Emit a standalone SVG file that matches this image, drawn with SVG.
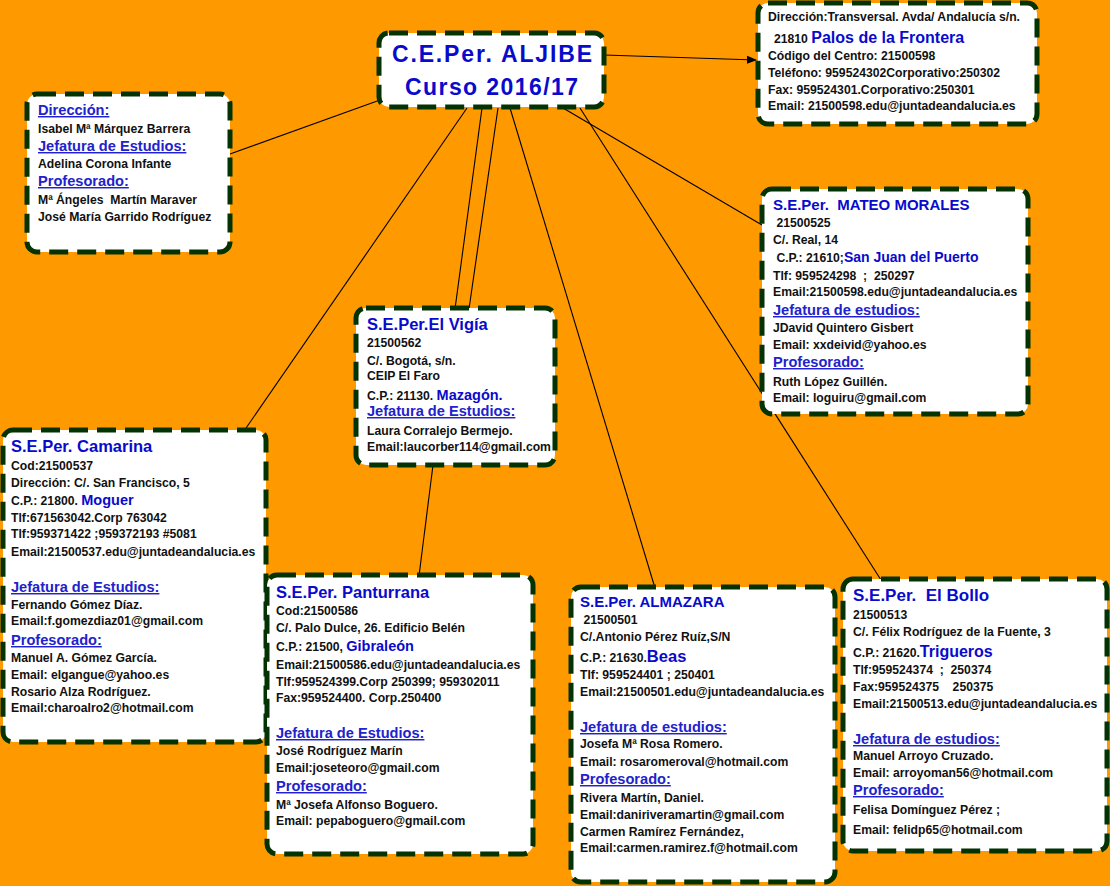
<svg xmlns="http://www.w3.org/2000/svg" width="1110" height="886" viewBox="0 0 1110 886">
<defs>
<marker id="arr" markerWidth="10" markerHeight="8" refX="9" refY="4" orient="auto" markerUnits="userSpaceOnUse">
<path d="M0,0 L10,4 L0,8 Z" fill="#000"/>
</marker>
<style>
.box{fill:#fff;stroke:#033303;stroke-width:5;stroke-dasharray:19 9}
.t{font-family:"Liberation Sans",Arial,sans-serif;font-weight:bold;font-size:12.2px;fill:#111;white-space:pre}
.h{font-family:"Liberation Sans",Arial,sans-serif;font-weight:bold;font-size:14.6px;fill:#2222cc;text-decoration:underline;white-space:pre}
.ti{font-family:"Liberation Sans",Arial,sans-serif;font-weight:bold;font-size:16.5px;fill:#0a0acc;white-space:pre}
.b{fill:#0a0acc}
.big{font-family:"Liberation Sans",Arial,sans-serif;font-weight:bold;font-size:23px;fill:#0a0acc}
.c{stroke:#000;stroke-width:1.1;fill:none}
</style>
</defs>
<rect width="1110" height="886" fill="#ff9900"/>
<g id="connectors">
<line class="c" x1="604" y1="55" x2="756" y2="60" marker-end="url(#arr)"/>
<line class="c" x1="380" y1="100" x2="230" y2="154"/>
<line class="c" x1="467" y1="108" x2="244" y2="431"/>
<line class="c" x1="482" y1="108" x2="455" y2="309"/>
<line class="c" x1="498" y1="108" x2="469" y2="309"/>
<line class="c" x1="510" y1="108" x2="655" y2="588"/>
<line class="c" x1="563" y1="108" x2="762" y2="225"/>
<line class="c" x1="580" y1="108" x2="881" y2="580"/>
<line class="c" x1="433" y1="465" x2="419" y2="576"/>
</g>
<g id="title">
<rect class="box" x="379" y="33" width="225" height="74" rx="10"/>
<text class="big" x="392" y="62" textLength="200">C.E.Per. ALJIBE</text>
<text class="big" x="405" y="95" textLength="173">Curso 2016/17</text>
</g>
<g id="centro">
<rect class="box" x="758" y="3" width="279" height="121" rx="10"/>
<text class="t" x="768" y="21">Dirección:Transversal. Avda/ Andalucía s/n.</text>
<text class="t" x="774" y="43">21810 <tspan class="b" style="font-size:16px">Palos de la Frontera</tspan></text>
<text class="t" x="768" y="60">Código del Centro: 21500598</text>
<text class="t" x="768" y="77">Teléfono: 959524302Corporativo:250302</text>
<text class="t" x="768" y="94">Fax: 959524301.Corporativo:250301</text>
<text class="t" x="768" y="110">Email: 21500598.edu@juntadeandalucia.es</text>
</g>
<g id="direccion">
<rect class="box" x="27" y="94" width="203" height="158" rx="10"/>
<text class="h" x="38" y="115">Dirección:</text>
<text class="t" x="38" y="133">Isabel Mª Márquez Barrera</text>
<text class="h" x="38" y="151">Jefatura de Estudios:</text>
<text class="t" x="38" y="168">Adelina Corona Infante</text>
<text class="h" x="38" y="186">Profesorado:</text>
<text class="t" x="38" y="204">Mª Ángeles  Martín Maraver</text>
<text class="t" x="38" y="221">José María Garrido Rodríguez</text>
</g>
<g id="mateo-morales">
<rect class="box" x="762" y="189" width="266" height="225" rx="10"/>
<text class="ti" x="773" y="210" style="font-size:15px">S.E.Per.  MATEO MORALES</text>
<text class="t" x="773" y="227"> 21500525</text>
<text class="t" x="773" y="244">C/. Real, 14</text>
<text class="t" x="773" y="262"> C.P.: 21610;<tspan class="b" style="font-size:14px">San Juan del Puerto</tspan></text>
<text class="t" x="773" y="280">Tlf: 959524298  ;  250297</text>
<text class="t" x="773" y="296">Email:21500598.edu@juntadeandalucia.es</text>
<text class="h" x="773" y="315">Jefatura de estudios:</text>
<text class="t" x="773" y="332">JDavid Quintero Gisbert</text>
<text class="t" x="773" y="349">Email: xxdeivid@yahoo.es</text>
<text class="h" x="773" y="367">Profesorado:</text>
<text class="t" x="773" y="386">Ruth López Guillén.</text>
<text class="t" x="773" y="402">Email: loguiru@gmail.com</text>
</g>
<g id="el-vigia">
<rect class="box" x="356" y="308" width="199" height="157" rx="10"/>
<text class="ti" x="367" y="330">S.E.Per.El Vigía</text>
<text class="t" x="367" y="347">21500562</text>
<text class="t" x="367" y="365">C/. Bogotá, s/n.</text>
<text class="t" x="367" y="380">CEIP El Faro</text>
<text class="t" x="367" y="400">C.P.: 21130. <tspan class="b" style="font-size:14.5px">Mazagón.</tspan></text>
<text class="h" x="367" y="416">Jefatura de Estudios:</text>
<text class="t" x="367" y="435">Laura Corralejo Bermejo.</text>
<text class="t" x="367" y="451">Email:laucorber114@gmail.com</text>
</g>
<g id="camarina">
<rect class="box" x="3" y="430" width="263" height="312" rx="10"/>
<text class="ti" x="11" y="452">S.E.Per. Camarina</text>
<text class="t" x="11" y="470">Cod:21500537</text>
<text class="t" x="11" y="487">Dirección: C/. San Francisco, 5</text>
<text class="t" x="11" y="505">C.P.: 21800. <tspan class="b" style="font-size:14.5px">Moguer</tspan></text>
<text class="t" x="11" y="522">Tlf:671563042.Corp 763042</text>
<text class="t" x="11" y="538">Tlf:959371422 ;959372193 #5081</text>
<text class="t" x="11" y="556">Email:21500537.edu@juntadeandalucia.es</text>
<text class="h" x="11" y="592">Jefatura de Estudios:</text>
<text class="t" x="11" y="609">Fernando Gómez Díaz.</text>
<text class="t" x="11" y="625">Email:f.gomezdiaz01@gmail.com</text>
<text class="h" x="11" y="645">Profesorado:</text>
<text class="t" x="11" y="662">Manuel A. Gómez García.</text>
<text class="t" x="11" y="679">Email: elgangue@yahoo.es</text>
<text class="t" x="11" y="696">Rosario Alza Rodríguez.</text>
<text class="t" x="11" y="712">Email:charoalro2@hotmail.com</text>
</g>
<g id="panturrana">
<rect class="box" x="267" y="575" width="266" height="279" rx="10"/>
<text class="ti" x="276" y="598">S.E.Per. Panturrana</text>
<text class="t" x="276" y="615">Cod:21500586</text>
<text class="t" x="276" y="632">C/. Palo Dulce, 26. Edificio Belén</text>
<text class="t" x="276" y="651">C.P.: 21500, <tspan class="b" style="font-size:14.5px">Gibraleón</tspan></text>
<text class="t" x="276" y="669">Email:21500586.edu@juntadeandalucia.es</text>
<text class="t" x="276" y="686">Tlf:959524399.Corp 250399; 959302011</text>
<text class="t" x="276" y="702">Fax:959524400. Corp.250400</text>
<text class="h" x="276" y="738">Jefatura de Estudios:</text>
<text class="t" x="276" y="755">José Rodríguez Marín</text>
<text class="t" x="276" y="772">Email:joseteoro@gmail.com</text>
<text class="h" x="276" y="791">Profesorado:</text>
<text class="t" x="276" y="809">Mª Josefa Alfonso Boguero.</text>
<text class="t" x="276" y="825">Email: pepaboguero@gmail.com</text>
</g>
<g id="almazara">
<rect class="box" x="571" y="587" width="264" height="295" rx="10"/>
<text class="ti" x="580" y="607" style="font-size:15px">S.E.Per. ALMAZARA</text>
<text class="t" x="580" y="624"> 21500501</text>
<text class="t" x="580" y="641">C/.Antonio Pérez Ruíz,S/N</text>
<text class="t" x="580" y="662">C.P.: 21630.<tspan class="b" style="font-size:16.5px">Beas</tspan></text>
<text class="t" x="580" y="679">Tlf: 959524401 ; 250401</text>
<text class="t" x="580" y="696">Email:21500501.edu@juntadeandalucia.es</text>
<text class="h" x="580" y="732">Jefatura de estudios:</text>
<text class="t" x="580" y="748">Josefa Mª Rosa Romero.</text>
<text class="t" x="580" y="766">Email: rosaromeroval@hotmail.com</text>
<text class="h" x="580" y="784">Profesorado:</text>
<text class="t" x="580" y="802">Rivera Martín, Daniel.</text>
<text class="t" x="580" y="819">Email:daniriveramartin@gmail.com</text>
<text class="t" x="580" y="836">Carmen Ramírez Fernández,</text>
<text class="t" x="580" y="852">Email:carmen.ramirez.f@hotmail.com</text>
</g>
<g id="el-bollo">
<rect class="box" x="843" y="579" width="264" height="272" rx="10"/>
<text class="ti" x="853" y="601" style="font-size:17px">S.E.Per.  El Bollo</text>
<text class="t" x="853" y="619">21500513</text>
<text class="t" x="853" y="636">C/. Félix Rodríguez de la Fuente, 3</text>
<text class="t" x="853" y="657">C.P.: 21620.<tspan class="b" style="font-size:16px">Trigueros</tspan></text>
<text class="t" x="853" y="674">Tlf:959524374  ;  250374</text>
<text class="t" x="853" y="691">Fax:959524375    250375</text>
<text class="t" x="853" y="708">Email:21500513.edu@juntadeandalucia.es</text>
<text class="h" x="853" y="744">Jefatura de estudios:</text>
<text class="t" x="853" y="760">Manuel Arroyo Cruzado.</text>
<text class="t" x="853" y="777">Email: arroyoman56@hotmail.com</text>
<text class="h" x="853" y="795">Profesorado:</text>
<text class="t" x="853" y="814">Felisa Domínguez Pérez ;</text>
<text class="t" x="853" y="834">Email: felidp65@hotmail.com</text>
</g>
</svg>
